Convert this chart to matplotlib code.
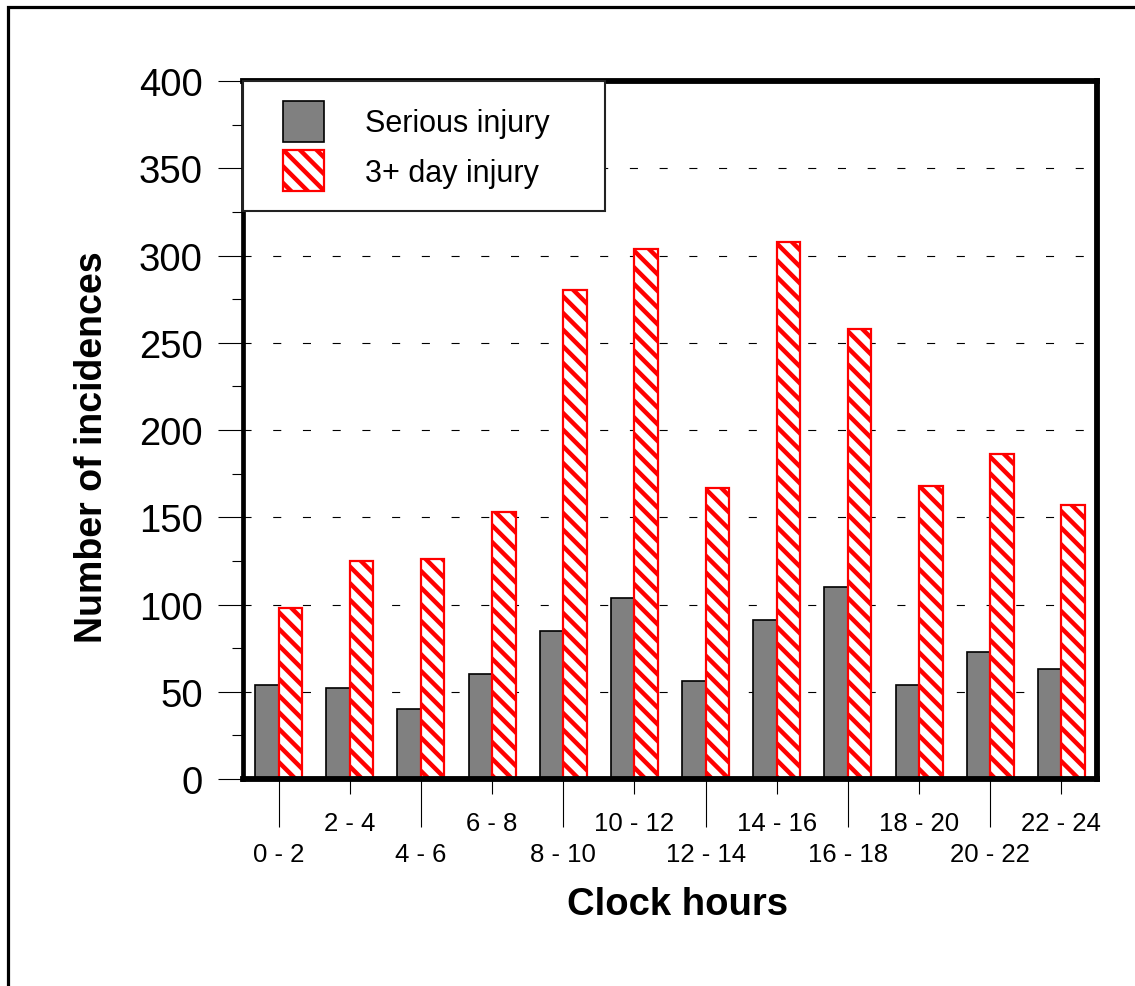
import matplotlib
matplotlib.use('Agg')
import matplotlib.pyplot as plt
from matplotlib.patches import Rectangle
from matplotlib.container import BarContainer
from matplotlib.legend_handler import HandlerPatch, update_from_first_child
from matplotlib.ticker import FixedLocator, FixedFormatter, MultipleLocator

plt.rcParams['font.family'] = ['Liberation Sans', 'DejaVu Sans']
plt.rcParams['hatch.linewidth'] = 3.2
plt.rcParams['lines.scale_dashes'] = False

# injuries per two-hour slot of the day
hours = ['0 - 2', '2 - 4', '4 - 6', '6 - 8', '8 - 10', '10 - 12',
         '12 - 14', '14 - 16', '16 - 18', '18 - 20', '20 - 22', '22 - 24']
serious = [54, 52, 40, 60, 85, 104, 56, 91, 110, 54, 73, 63]
three_day = [98, 125, 126, 153, 280, 304, 167, 308, 258, 168, 186, 157]

W = 0.33
x = list(range(len(hours)))

fig = plt.figure(figsize=(11.35, 9.87), dpi=100)
ax = fig.add_axes([0.2141, 0.2097, 0.9665 - 0.2141, 0.9169 - 0.2097])

ax.bar(x, serious, width=-W, align='edge', color='#808080',
       edgecolor='black', linewidth=1.2, label='Serious injury', zorder=2)
ax.bar(x, three_day, width=W, align='edge', color='white', hatch='\\\\',
       edgecolor='red', linewidth=1.6, label='3+ day injury', zorder=2)

ax.set_xlim(-0.5, 11.5)
ax.set_ylim(0, 400)

# y axis
ax.yaxis.set_major_locator(MultipleLocator(50))
ax.yaxis.set_minor_locator(MultipleLocator(25))
ax.tick_params(axis='y', which='major', length=18, width=0.8, pad=11,
               labelsize=27.5, direction='out')
ax.tick_params(axis='y', which='minor', length=8, width=0.8, direction='out')
ax.grid(axis='y', which='major', color='black', linewidth=0.8,
        linestyle=(0, (5.8, 15.6)))
ax.set_axisbelow(True)

# x axis: labels staggered over two rows
even = x[0::2]
odd = x[1::2]
ax.xaxis.set_major_locator(FixedLocator(even))
ax.xaxis.set_major_formatter(FixedFormatter(hours[0::2]))
ax.xaxis.set_minor_locator(FixedLocator(odd))
ax.xaxis.set_minor_formatter(FixedFormatter(hours[1::2]))
ax.tick_params(axis='x', which='major', length=34.5, width=0.8, pad=11,
               labelsize=18.5)
ax.tick_params(axis='x', which='minor', length=11, width=0.8, pad=12,
               labelsize=18.5)

for side in ['top', 'right', 'bottom']:
    ax.spines[side].set_linewidth(4.2)
ax.spines['left'].set_linewidth(3.4)

ax.set_ylabel('Number of incidences', fontsize=27, fontweight='bold')
ax.yaxis.set_label_coords(-0.156, 0.477)
ax.set_xlabel('Clock hours', fontsize=27.5, fontweight='bold')
ax.xaxis.set_label_coords(0.509, -0.153)


def square_handle(legend, orig_handle, xdescent, ydescent, width, height, fontsize):
    return Rectangle((width - height - xdescent, -ydescent), height, height)


leg = ax.legend(loc='upper left', bbox_to_anchor=(0, 1, 0.4239, 0),
                mode='expand', borderaxespad=0, borderpad=0.65,
                handlelength=2.0, handleheight=1.686, handletextpad=1.34,
                labelspacing=0.28, fontsize=22, fancybox=False,
                framealpha=1, edgecolor='#222222',
                handler_map={BarContainer: HandlerPatch(
                    patch_func=square_handle,
                    update_func=update_from_first_child)})
leg.get_frame().set_linewidth(1.5)

# outer frame around the figure
fig.add_artist(Rectangle((8.3 / 1135, -0.2), 1.5, 1.2 - 8.3 / 987,
                         transform=fig.transFigure, fill=False,
                         edgecolor='black', linewidth=2.3, clip_on=False))

fig.savefig('out.png', dpi=100, facecolor='white')
